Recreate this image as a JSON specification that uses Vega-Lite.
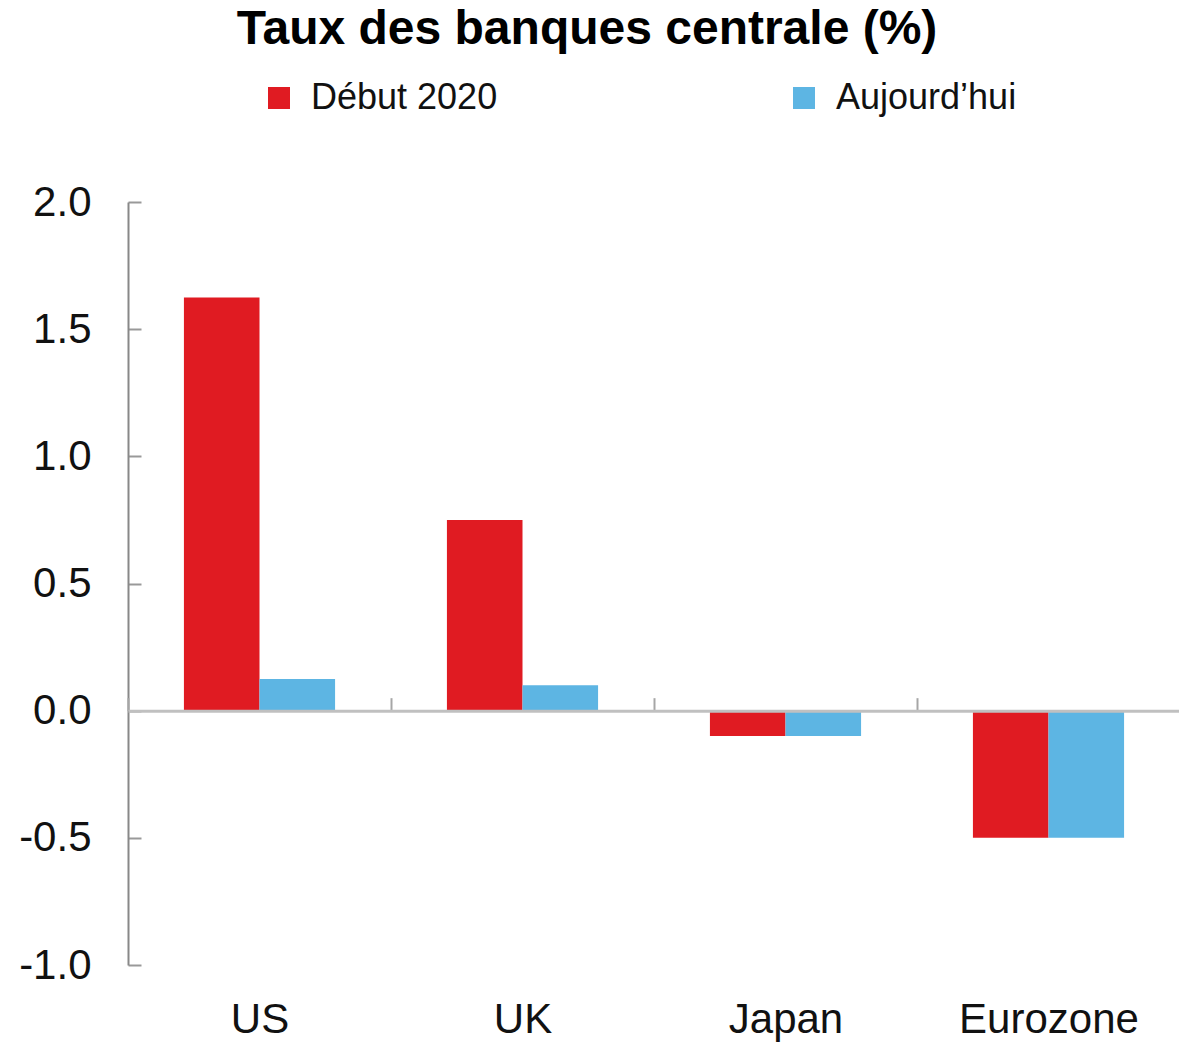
{
  "$schema": "https://vega.github.io/schema/vega-lite/v6.json",
  "width": 1052,
  "height": 763,
  "autosize": {"type": "none"},
  "padding": {"left": 128, "top": 202, "right": 0, "bottom": 81},
  "background": "white",
  "title": {
    "text": "Taux des banques centrale (%)",
    "font": "Liberation Sans",
    "fontSize": 48,
    "fontWeight": "bold",
    "color": "#000000",
    "anchor": "middle",
    "frame": "group",
    "dx": -67,
    "offset": 26
  },
  "data": {
    "values": [
      {"country": "US", "series": "Début 2020", "rate": 1.625},
      {"country": "US", "series": "Aujourd’hui", "rate": 0.125},
      {"country": "UK", "series": "Début 2020", "rate": 0.75},
      {"country": "UK", "series": "Aujourd’hui", "rate": 0.1},
      {"country": "Japan", "series": "Début 2020", "rate": -0.1},
      {"country": "Japan", "series": "Aujourd’hui", "rate": -0.1},
      {"country": "Eurozone", "series": "Début 2020", "rate": -0.5},
      {"country": "Eurozone", "series": "Aujourd’hui", "rate": -0.5}
    ]
  },
  "mark": {"type": "bar"},
  "encoding": {
    "x": {
      "field": "country",
      "type": "nominal",
      "sort": ["US", "UK", "Japan", "Eurozone"],
      "scale": {"paddingInner": 0, "paddingOuter": 0},
      "axis": {
        "title": null,
        "orient": "bottom",
        "offset": -254.33,
        "zindex": 1,
        "domain": true,
        "domainColor": "#c0c0c0",
        "domainWidth": 3,
        "ticks": true,
        "tickBand": "extent",
        "tickSize": -13,
        "tickColor": "#a6a6a6",
        "tickWidth": 2,
        "labelAngle": 0,
        "labelFont": "Liberation Sans",
        "labelFontSize": 42,
        "labelColor": "#111111",
        "labelPadding": 302,
        "labelBaseline": "top"
      }
    },
    "xOffset": {
      "field": "series",
      "sort": ["Début 2020", "Aujourd’hui"],
      "scale": {"paddingInner": 0, "paddingOuter": 0.74}
    },
    "y": {
      "field": "rate",
      "type": "quantitative",
      "scale": {"domain": [-1, 2], "nice": false, "zero": false},
      "axis": {
        "title": null,
        "values": [-1, -0.5, 0, 0.5, 1, 1.5, 2],
        "labelExpr": "replace(format(datum.value, '.1f'), '−', '-')",
        "grid": false,
        "domain": true,
        "domainColor": "#888888",
        "domainWidth": 2,
        "ticks": true,
        "tickSize": -13,
        "tickColor": "#999999",
        "tickWidth": 2,
        "labelFont": "Liberation Sans",
        "labelFontSize": 42,
        "labelColor": "#111111",
        "labelPadding": 50
      }
    },
    "color": {
      "field": "series",
      "type": "nominal",
      "scale": {"domain": ["Début 2020", "Aujourd’hui"], "range": ["#E01B22", "#5DB5E3"]},
      "legend": {
        "title": null,
        "orient": "none",
        "direction": "horizontal",
        "legendX": 133,
        "legendY": -122,
        "padding": 0,
        "columnPadding": 288,
        "symbolType": "square",
        "symbolSize": 484,
        "symbolStrokeWidth": 0,
        "labelFont": "Liberation Sans",
        "labelFontSize": 36,
        "labelColor": "#111111",
        "labelOffset": 14,
        "labelLimit": 400
      }
    }
  },
  "config": {"view": {"stroke": null}}
}
